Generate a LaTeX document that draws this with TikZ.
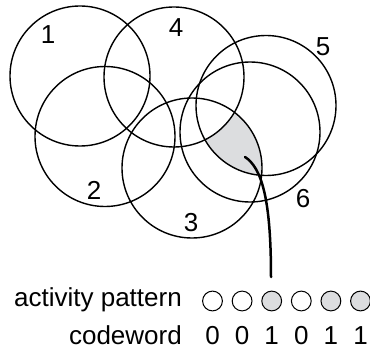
\documentclass[tikz,border=0pt]{standalone}
\usepackage{fontspec}
\setmainfont{Liberation Sans}
\definecolor{shadegray}{RGB}{220,221,223}
\begin{document}
\begin{tikzpicture}[x=1pt,y=-1pt,
  ring/.style={circle, draw=black, line width=1.4pt, minimum size=140pt, inner sep=0pt},
  lab/.style={font=\fontsize{26}{30}\selectfont, inner sep=0pt},
  bit/.style={circle, draw=black, line width=1pt, minimum size=19.8pt, inner sep=0pt},
  bitoff/.style={bit, fill=white},
  biton/.style={bit, fill=shadegray},
  pointer/.style={draw=black, line width=2.5pt, line cap=round}]
\useasboundingbox (0,0) rectangle (370,353);
% shaded region: inside 3 and 5, outside 4
\begin{scope}
  \clip (192,168) circle[radius=70pt];
  \clip (266,105.5) circle[radius=70pt];
  \fill[shadegray] (100,0) rectangle (370,260);
  \fill[white] (174,77) circle[radius=70pt];
\end{scope}
% receptive fields
\node[ring] (c1) at (80,76) {};
\node[ring] (c4) at (174,77) {};
\node[ring] (c2) at (105,136.5) {};
\node[ring] (c3) at (192,168) {};
\node[ring] (c5) at (266,105.5) {};
\node[ring] (c6) at (250,132) {};
% labels
\node[lab] (l1) at (48,34.5) {1};
\node[lab] (l4) at (176,27.5) {4};
\node[lab] (l2) at (94,190) {2};
\node[lab] (l3) at (191,222.5) {3};
\node[lab] (l5) at (323,46.5) {5};
\node[lab] (l6) at (303,198.5) {6};
% pointer
\coordinate (tailA) at (245,157);
\coordinate (tailB) at (271,277);
\draw[pointer] (tailA) .. controls (262,168) and (271,200) .. (tailB);
% activity pattern
\node[lab, anchor=base east] (ap) at (182,306.5) {activity pattern};
\node[lab, anchor=base east] (cw) at (182,344) {codeword};
\node[bitoff] (b1) at (212.5,301) {};
\node[bitoff] (b2) at (242.1,301) {};
\node[biton]  (b3) at (271.7,301) {};
\node[bitoff] (b4) at (301.3,301) {};
\node[biton]  (b5) at (330.9,301) {};
\node[biton]  (b6) at (360.5,301) {};
\node[lab, anchor=base] (d1) at (212.5,344) {0};
\node[lab, anchor=base] (d2) at (242.1,344) {0};
\node[lab, anchor=base] (d3) at (271.7,344) {1};
\node[lab, anchor=base] (d4) at (301.3,344) {0};
\node[lab, anchor=base] (d5) at (330.9,344) {1};
\node[lab, anchor=base] (d6) at (360.5,344) {1};
\end{tikzpicture}
\end{document}
